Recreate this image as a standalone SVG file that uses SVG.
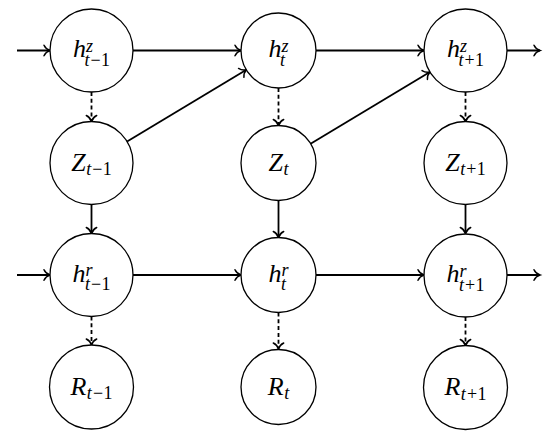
<svg xmlns="http://www.w3.org/2000/svg" width="550" height="438" viewBox="0 0 550 438">
<style>
.n{fill:#fff;stroke:#000;stroke-width:1.3}
.s{font-size:18px}
.u{font-style:normal}
.c line{stroke:#000;stroke-width:1.8;marker-end:url(#ah)}
.c .d{stroke-dasharray:4 2.8}
</style>
<defs>
<marker id="ah" markerUnits="userSpaceOnUse" viewBox="-8 -7 10 14" refX="0" refY="0" markerWidth="10" markerHeight="14" orient="auto" overflow="visible">
<path d="M -6,-5.2 C -4.6,-2.2 -1.8,-0.6 0,0 C -1.8,0.6 -4.6,2.2 -6,5.2" fill="none" stroke="#000" stroke-width="1.5" stroke-linecap="round"/>
</marker>
</defs>
<g id="connectors" class="c">
<line x1="17" y1="50.5" x2="50" y2="50.5"/>
<line x1="133" y1="50.5" x2="241" y2="50.5"/>
<line x1="316" y1="50.5" x2="424" y2="50.5"/>
<line x1="507" y1="50.5" x2="540" y2="50.5"/>
<line x1="17" y1="275" x2="50" y2="275"/>
<line x1="133" y1="275" x2="241" y2="275"/>
<line x1="316" y1="275" x2="424" y2="275"/>
<line x1="507" y1="275" x2="540" y2="275"/>
<line class="d" x1="91.5" y1="92" x2="91.5" y2="121.5"/>
<line x1="91.5" y1="204.5" x2="91.5" y2="233.5"/>
<line class="d" x1="91.5" y1="316.5" x2="91.5" y2="345"/>
<line class="d" x1="278.5" y1="88" x2="278.5" y2="125.5"/>
<line x1="278.5" y1="200.5" x2="278.5" y2="237.5"/>
<line class="d" x1="278.5" y1="312.5" x2="278.5" y2="349"/>
<line class="d" x1="465.5" y1="92" x2="465.5" y2="121.5"/>
<line x1="465.5" y1="204.5" x2="465.5" y2="233.5"/>
<line class="d" x1="465.5" y1="317" x2="465.5" y2="345.5"/>
<line x1="127.1" y1="141.6" x2="246.4" y2="69.8"/>
<line x1="310.6" y1="143.7" x2="429.9" y2="71.9"/>
</g>
<g font-family="Liberation Serif, DejaVu Serif, serif" font-style="italic" font-size="26" fill="#000">
<g id="hz_tm1"><circle class="n" cx="91.5" cy="50.5" r="41.5"/><text x="91.5" y="57" text-anchor="middle">h<tspan class="s" dy="-5.5">z</tspan><tspan class="s" dx="-8.5" dy="14">t<tspan class="u" dx="1">−</tspan><tspan class="u" dx="0.5">1</tspan></tspan></text></g>
<g id="hz_t"><circle class="n" cx="278.5" cy="50.5" r="37.5"/><text x="278.5" y="57" text-anchor="middle">h<tspan class="s" dy="-5.5">z</tspan><tspan class="s" dx="-8.5" dy="14">t</tspan></text></g>
<g id="hz_tp1"><circle class="n" cx="465.5" cy="50.5" r="41.5"/><text x="465.5" y="57" text-anchor="middle">h<tspan class="s" dy="-5.5">z</tspan><tspan class="s" dx="-8.5" dy="14">t<tspan class="u" dx="1">+</tspan><tspan class="u" dx="0.5">1</tspan></tspan></text></g>
<g id="Z_tm1"><circle class="n" cx="91.5" cy="163" r="41.5"/><text x="91.5" y="170.5" text-anchor="middle">Z<tspan class="s" dx="0.5" dy="4.5">t<tspan class="u" dx="1">−</tspan><tspan class="u" dx="0.5">1</tspan></tspan></text></g>
<g id="Z_t"><circle class="n" cx="278.5" cy="163" r="37.5"/><text x="278.5" y="170.5" text-anchor="middle">Z<tspan class="s" dx="0.5" dy="4.5">t</tspan></text></g>
<g id="Z_tp1"><circle class="n" cx="465.5" cy="163" r="41.5"/><text x="465.5" y="170.5" text-anchor="middle">Z<tspan class="s" dx="0.5" dy="4.5">t<tspan class="u" dx="1">+</tspan><tspan class="u" dx="0.5">1</tspan></tspan></text></g>
<g id="hr_tm1"><circle class="n" cx="91.5" cy="275" r="41.5"/><text x="91.5" y="281.5" text-anchor="middle">h<tspan class="s" dy="-5.5">r</tspan><tspan class="s" dx="-7.5" dy="14">t<tspan class="u" dx="1">−</tspan><tspan class="u" dx="0.5">1</tspan></tspan></text></g>
<g id="hr_t"><circle class="n" cx="278.5" cy="275" r="37.5"/><text x="278.5" y="281.5" text-anchor="middle">h<tspan class="s" dy="-5.5">r</tspan><tspan class="s" dx="-7.5" dy="14">t</tspan></text></g>
<g id="hr_tp1"><circle class="n" cx="465.5" cy="275.5" r="41.5"/><text x="465.5" y="282" text-anchor="middle">h<tspan class="s" dy="-5.5">r</tspan><tspan class="s" dx="-7.5" dy="14">t<tspan class="u" dx="1">+</tspan><tspan class="u" dx="0.5">1</tspan></tspan></text></g>
<g id="R_tm1"><circle class="n" cx="91.5" cy="387" r="42"/><text x="91.5" y="394.5" text-anchor="middle">R<tspan class="s" dx="0.5" dy="4.5">t<tspan class="u" dx="1">−</tspan><tspan class="u" dx="0.5">1</tspan></tspan></text></g>
<g id="R_t"><circle class="n" cx="278.5" cy="387" r="37.5"/><text x="278.5" y="394.5" text-anchor="middle">R<tspan class="s" dx="0.5" dy="4.5">t</tspan></text></g>
<g id="R_tp1"><circle class="n" cx="465.5" cy="387.5" r="42"/><text x="465.5" y="395" text-anchor="middle">R<tspan class="s" dx="0.5" dy="4.5">t<tspan class="u" dx="1">+</tspan><tspan class="u" dx="0.5">1</tspan></tspan></text></g>
</g>
</svg>
